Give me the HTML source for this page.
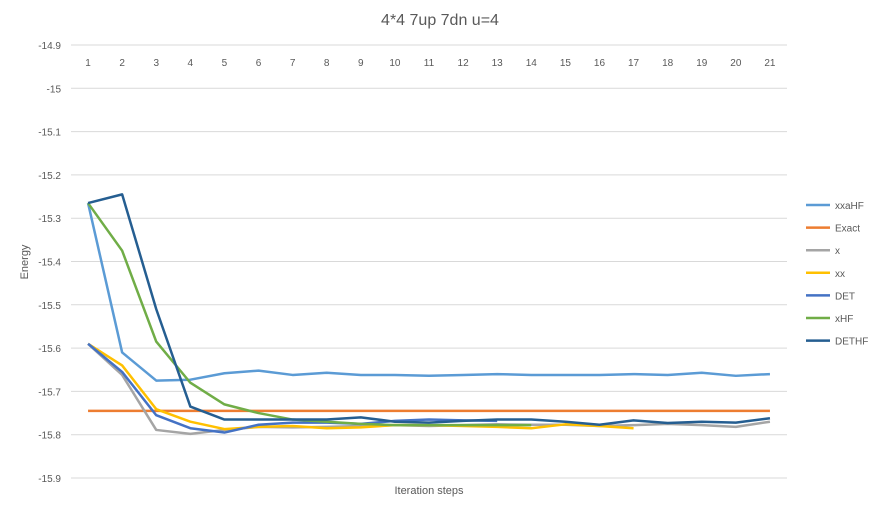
<!DOCTYPE html>
<html><head><meta charset="utf-8"><style>
body{margin:0;background:#fff;font-family:"Liberation Sans",sans-serif;}
svg text{font-family:"Liberation Sans",sans-serif;fill:#595959;}
</style></head><body>
<svg id="chart" width="879" height="511">
<text x="440" y="25" font-size="16" text-anchor="middle">4*4 7up 7dn u=4</text>
<g id="grid"></g><g id="yt"></g><g id="xt"></g><g id="lines"></g><g id="legend"></g>
<text transform="translate(28,262) rotate(-90)" font-size="11" text-anchor="middle">Energy</text>
<text x="429" y="494" font-size="11" text-anchor="middle">Iteration steps</text>
</svg>
<script>
const categories=[1,2,3,4,5,6,7,8,9,10,11,12,13,14,15,16,17,18,19,20,21];
const yTicks=[-14.9,-15,-15.1,-15.2,-15.3,-15.4,-15.5,-15.6,-15.7,-15.8,-15.9];
const seriesNames=["xxaHF","Exact","x","xx","DET","xHF","DETHF"];
const seriesColors=["#5b9bd5","#ed7d31","#a5a5a5","#ffc000","#4472c4","#70ad47","#255e91"];
const xxaHF=[-15.265,-15.61,-15.675,-15.673,-15.658,-15.652,-15.662,-15.657,-15.662,-15.662,-15.664,-15.662,-15.66,-15.662,-15.662,-15.662,-15.66,-15.662,-15.657,-15.664,-15.66];
const Exact=[-15.745,-15.745,-15.745,-15.745,-15.745,-15.745,-15.745,-15.745,-15.745,-15.745,-15.745,-15.745,-15.745,-15.745,-15.745,-15.745,-15.745,-15.745,-15.745,-15.745,-15.745];
const xS=[-15.59,-15.662,-15.789,-15.798,-15.789,-15.782,-15.783,-15.782,-15.78,-15.778,-15.78,-15.778,-15.776,-15.777,-15.777,-15.78,-15.778,-15.775,-15.778,-15.782,-15.77];
const xx=[-15.59,-15.64,-15.741,-15.77,-15.787,-15.782,-15.78,-15.785,-15.783,-15.778,-15.778,-15.78,-15.782,-15.785,-15.776,-15.78,-15.785];
const DET=[-15.59,-15.655,-15.755,-15.785,-15.795,-15.777,-15.772,-15.772,-15.775,-15.768,-15.765,-15.767,-15.768];
const xHF=[-15.265,-15.375,-15.585,-15.68,-15.73,-15.75,-15.765,-15.77,-15.775,-15.778,-15.778,-15.778,-15.778,-15.778];
const DETHF=[-15.265,-15.245,-15.51,-15.735,-15.765,-15.765,-15.765,-15.765,-15.76,-15.77,-15.772,-15.768,-15.765,-15.765,-15.77,-15.777,-15.767,-15.773,-15.77,-15.772,-15.762];
const allSeries=[xxaHF,Exact,xS,xx,DET,xHF,DETHF];
const NS="http://www.w3.org/2000/svg";
const L=71,R=787,T=45,B=478,yMax=-14.9,yMin=-15.9;
const step=(R-L)/categories.length;
const xs=i=>L+step*(i+0.5);
const ys=v=>T+(yMax-v)/(yMax-yMin)*(B-T);
function mk(t,a,p){const e=document.createElementNS(NS,t);for(const k in a)e.setAttribute(k,a[k]);p.appendChild(e);return e;}
const g=document.getElementById('grid'),yt=document.getElementById('yt'),xt=document.getElementById('xt');
yTicks.forEach(v=>{
 const l=mk('line',{x1:L,x2:R,y1:ys(v),y2:ys(v),stroke:'#d9d9d9','stroke-width':1},g);
 
 
 const t=mk('text',{x:61,y:ys(v)+4,'font-size':10,'text-anchor':'end'},yt);t.textContent=String(v);
 
 
});
categories.forEach((c,i)=>{
 const t=mk('text',{x:xs(i),y:66,'font-size':10,'text-anchor':'middle'},xt);t.textContent=c;
 
 
});
const lg=document.getElementById('lines'),leg=document.getElementById('legend');
allSeries.forEach((s,k)=>{
 const p=mk('polyline',{points:s.map((v,i)=>xs(i)+','+ys(v)).join(' '),fill:'none',stroke:seriesColors[k],'stroke-width':2.5,'stroke-linejoin':'round'},lg);
 
 
 const ly=205+k*22.6;
 const gi=mk('g',{},leg);
 
 
 mk('line',{x1:806,x2:830,y1:ly,y2:ly,stroke:seriesColors[k],'stroke-width':2.5},gi);
 const t=mk('text',{x:835,y:ly+4,'font-size':10},gi);t.textContent=seriesNames[k];
});
</script>
</body></html>
